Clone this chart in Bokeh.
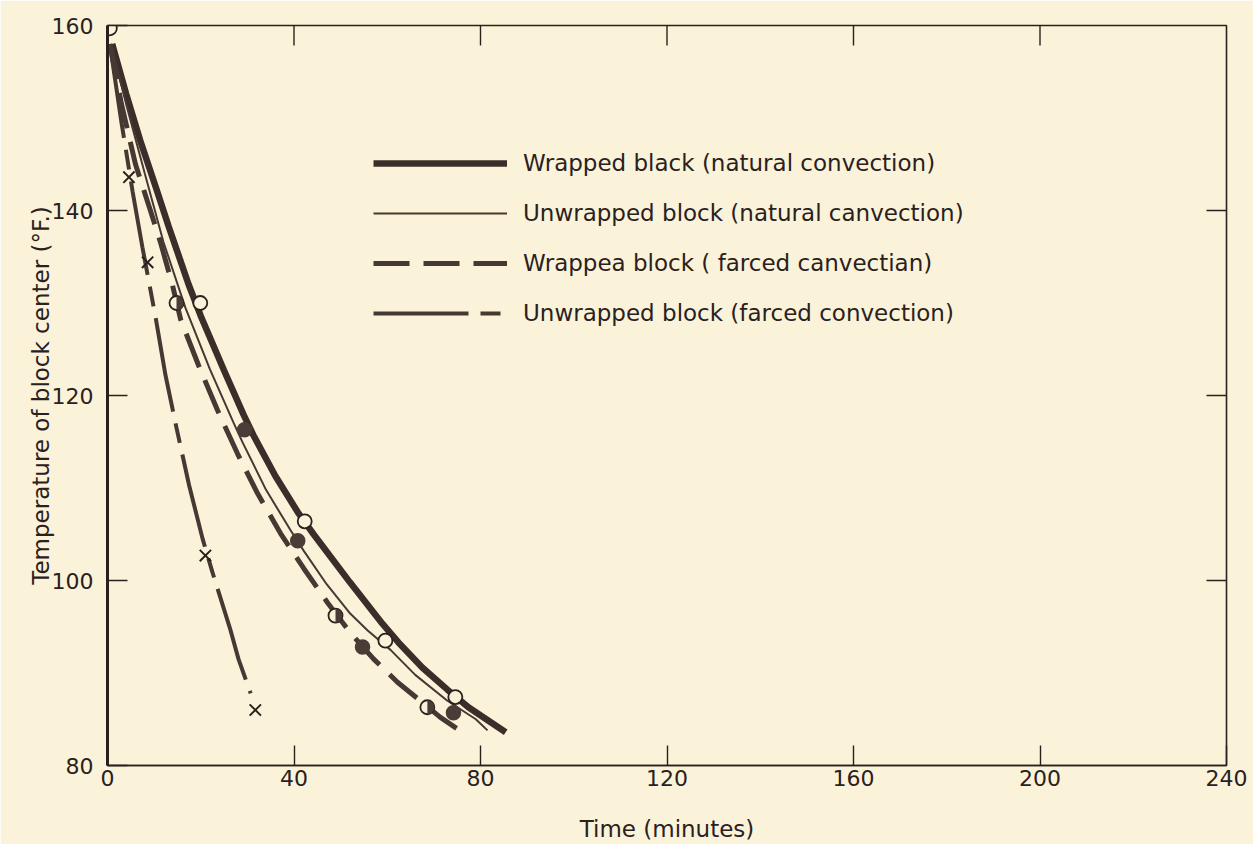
import math
from bokeh.plotting import figure
from bokeh.models import Range1d, FixedTicker, Legend, LegendItem
from bokeh.embed import file_html
from bokeh.resources import INLINE

# ---------------- data ----------------
x_min, x_max = 0, 240
y_min, y_max = 80, 160
x_ticks = [0, 40, 80, 120, 160, 200, 240]
y_ticks = [80, 100, 120, 140, 160]
top_ticks = [40, 80, 120, 160, 200]
right_ticks = [100, 120, 140]

# Wrapped block (natural convection) - thick solid
t_wrap_nat = [1, 4, 7, 10.7, 13.1, 17.4, 20, 25, 29.2, 31.3, 36, 40.8, 44.2, 52, 59, 62.4, 67.5, 72.9, 77.4, 85.4]
T_wrap_nat = [158, 152.6, 147.6, 142, 138.3, 132, 128.6, 122.7, 117.9, 115.7, 111.3, 107.4, 105.0, 99.8, 95.3, 93.3, 90.6, 88.2, 86.3, 83.6]

# Unwrapped block (natural convection) - thin solid
t_unwrap_nat = [0.8, 4, 8, 12, 16.7, 22, 27, 29, 34, 39.3, 42.1, 47, 52.1, 55.8, 60.7, 66, 72.9, 79, 81.5]
T_unwrap_nat = [158, 151.5, 144, 136.6, 129.5, 122.8, 117.1, 114.9, 109.8, 105.4, 103.2, 99.6, 96.4, 94.6, 92.5, 89.8, 87.0, 85.0, 83.8]

# Wrapped block (forced convection) - dashed
t_wrap_forced = [0.5, 3, 6, 9.2, 11.4, 13.9, 15.7, 19.5, 23.6, 27.9, 32.2, 37.1, 42.1, 47.2, 52, 57.1, 62.2, 66.1, 71.4, 76.4]
T_wrap_forced = [158, 151.5, 145, 140, 136.5, 132, 128.2, 123.3, 118.4, 113.7, 109.4, 105.1, 101.3, 97.6, 94.4, 91.5, 89, 87.4, 85.2, 83.5]

# Unwrapped block (forced convection) - long/short dash
t_unwrap_forced = [0.5, 3, 5.4, 7.5, 10.3, 12.4, 14.8, 17.5, 20.4, 22.5, 26.4, 28.1, 30.7]
T_unwrap_forced = [158, 149.5, 142, 136, 128.5, 122.3, 116.5, 110.3, 104.5, 100.9, 94.6, 91.5, 87.8]

# Experimental points
open_t = [0.5, 19.9, 42.3, 59.6, 74.6]
open_T = [159.7, 130, 106.4, 93.5, 87.4]
filled_t = [29.4, 40.8, 54.7, 74.2]
filled_T = [116.3, 104.3, 92.8, 85.7]
half_t = [14.8, 48.9, 68.6]
half_T = [130, 96.2, 86.3]
cross_t = [4.6, 8.6, 21.0, 31.7]
cross_T = [143.6, 134.4, 102.7, 86.0]

legend_labels = [
    "Wrapped black (natural convection)",
    "Unwrapped block (natural canvection)",
    "Wrappea block ( farced canvectian)",
    "Unwrapped block (farced convection)",
]

# ---------------- style ----------------
BG = "#fbf3d9"
INK = "#2a211e"
LINE = "#463833"
FONT = "DejaVu Sans"

p = figure(width=1253, height=844,
           x_range=Range1d(x_min, x_max), y_range=Range1d(y_min, y_max),
           output_backend="svg", toolbar_location=None,
           x_axis_label="Time (minutes)",
           y_axis_label="Temperature of block center (°F.)",
           min_border_left=107, min_border_right=27,
           min_border_top=25, min_border_bottom=79)
p.background_fill_color = BG
p.border_fill_color = BG
p.outline_line_color = INK
p.outline_line_width = 1.6
p.grid.visible = False

def style_axis(ax, ticks, lw=1.6):
    ax.ticker = FixedTicker(ticks=ticks)
    ax.major_tick_in = 20
    ax.major_tick_out = 0
    ax.minor_tick_line_color = None
    ax.major_tick_line_color = INK
    ax.major_tick_line_width = 1.4
    ax.axis_line_color = INK
    ax.axis_line_width = lw
    ax.major_label_text_font = FONT
    ax.major_label_text_color = INK
    ax.major_label_text_font_size = "22px"
    ax.axis_label_text_font = FONT
    ax.axis_label_text_color = INK
    ax.axis_label_text_font_style = "normal"
    ax.axis_label_text_font_size = "23px"

xa = p.xaxis[0]
style_axis(xa, x_ticks)
xa.major_label_standoff = 4
xa.axis_label_standoff = 27

ya = p.yaxis[0]
style_axis(ya, y_ticks, lw=3)
ya.major_label_standoff = 14
ya.axis_label_standoff = -5

# inward ticks on the top and right frame edges
p.ray(x=top_ticks, y=[y_max] * len(top_ticks), length=20, length_units="screen",
      angle=-math.pi / 2, line_color=INK, line_width=1.4)
p.ray(x=[x_max] * len(right_ticks), y=right_ticks, length=20, length_units="screen",
      angle=math.pi, line_color=INK, line_width=1.4)

# ---------------- curves ----------------
r1 = p.line(t_wrap_nat, T_wrap_nat, line_color="#3b2e2a", line_width=6.5, line_cap="butt")
r2 = p.line(t_unwrap_nat, T_unwrap_nat, line_color=LINE, line_width=2)
r3 = p.line(t_wrap_forced, T_wrap_forced, line_color=LINE, line_width=5, line_dash="36 14")
r4 = p.line(t_unwrap_forced, T_unwrap_forced, line_color=LINE, line_width=4, line_dash="95 12 20 12")

# ---------------- points ----------------
p.scatter(open_t, open_T, marker="circle", size=14, fill_color=BG, line_color=INK, line_width=1.8)
p.scatter(filled_t, filled_T, marker="circle", size=14, fill_color="#4a3c37", line_color="#4a3c37", line_width=1.5)
p.scatter(half_t, half_T, marker="circle", size=14, fill_color=BG, line_color=INK, line_width=1.8)
p.wedge(half_t, half_T, radius=7, radius_units="screen",
        start_angle=-math.pi / 2, end_angle=math.pi / 2,
        fill_color="#4a3c37", line_color=None)
p.scatter(cross_t, cross_T, marker="x", size=16, line_color=INK, line_width=2)

# ---------------- legend ----------------
legend = Legend(items=[LegendItem(label=lab, renderers=[r]) for lab, r in
                       zip(legend_labels, [r1, r2, r3, r4])],
                location=(266, 437), orientation="vertical",
                glyph_width=134, glyph_height=30, label_height=30,
                label_standoff=16, spacing=20, padding=0, margin=0,
                label_text_font=FONT, label_text_font_size="23px",
                label_text_color=INK,
                background_fill_alpha=0, border_line_alpha=0)
p.add_layout(legend, "center")

open("out.html", "w").write(file_html(p, INLINE))
